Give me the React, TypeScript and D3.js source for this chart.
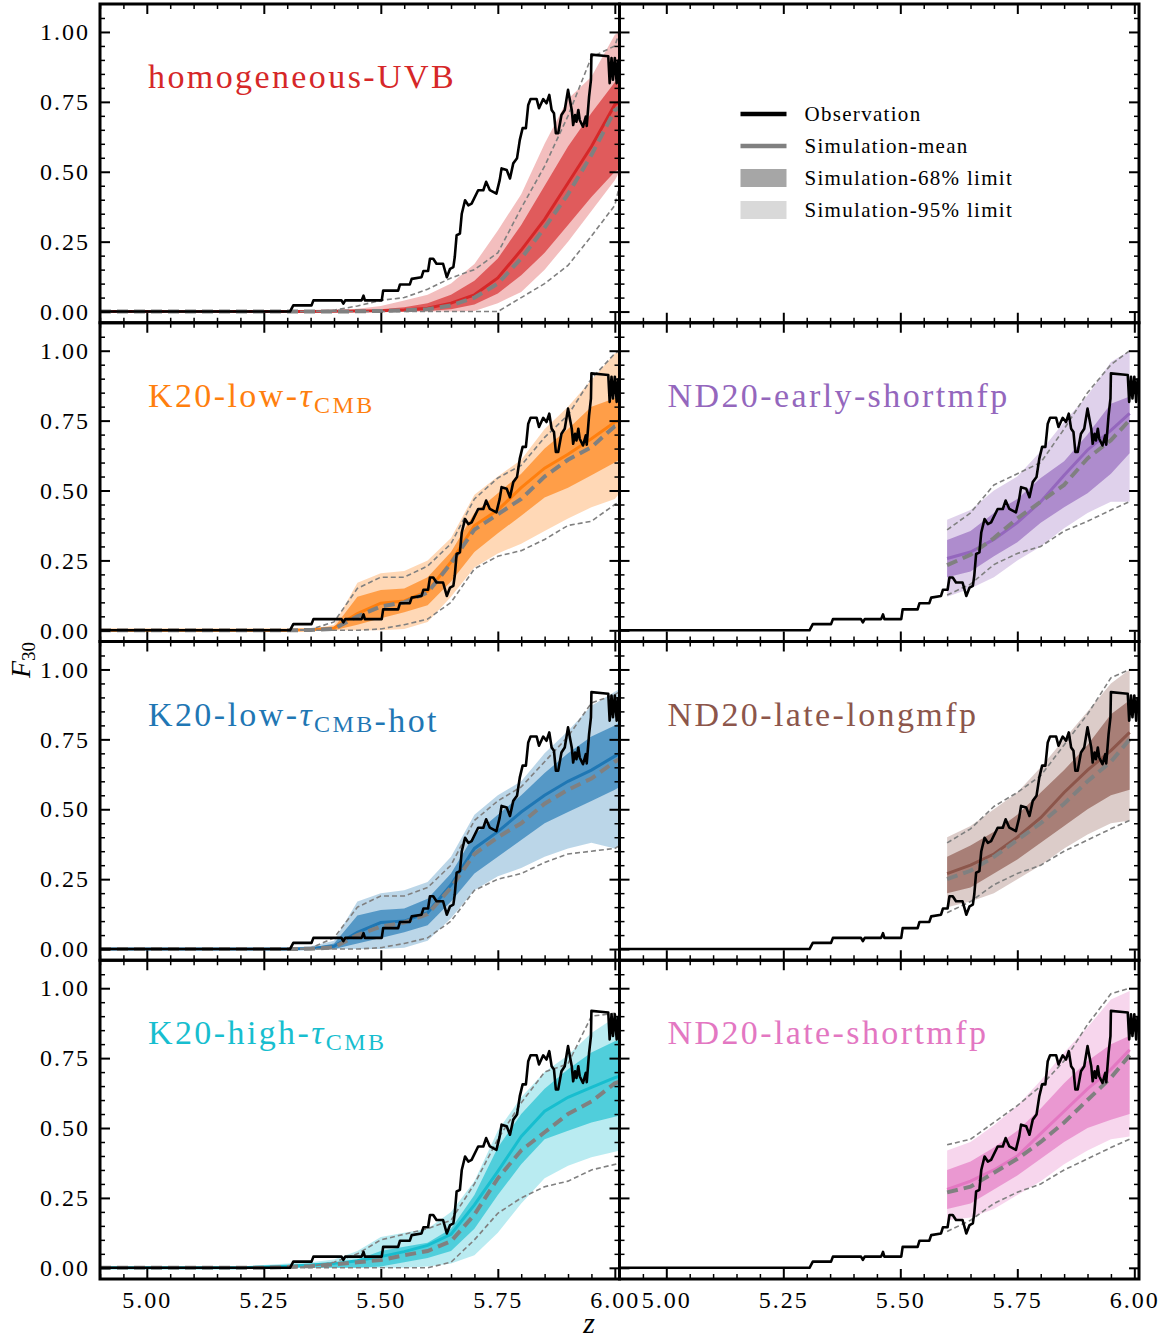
import { useEffect, useRef } from 'react'
import * as d3 from 'd3'

const W = 1167, H = 1338
const X0 = 100, PW = 519.5, Y0 = 4, PH = 318.75
const XDOM: [number, number] = [4.9, 6.01]
const YDOM: [number, number] = [-0.04, 1.1]
const X_MAJOR = [5.0, 5.25, 5.5, 5.75, 6.0]
const Y_MAJOR = [0, 0.25, 0.5, 0.75, 1.0]

// observed F30 (z, value)
const OBS_Z = [4.9, 5.306, 5.313, 5.352, 5.356, 5.416, 5.42, 5.424, 5.459, 5.463, 5.466, 5.502, 5.505, 5.537, 5.541, 5.562, 5.566, 5.587, 5.591, 5.601, 5.605, 5.612, 5.619, 5.633, 5.641, 5.648, 5.655, 5.658, 5.662, 5.669, 5.673, 5.68, 5.687, 5.694, 5.708, 5.719, 5.725, 5.733, 5.747, 5.754, 5.758, 5.769, 5.776, 5.783, 5.791, 5.797, 5.803, 5.81, 5.815, 5.82, 5.833, 5.838, 5.847, 5.854, 5.86, 5.865, 5.87, 5.874, 5.879, 5.886, 5.893, 5.9, 5.904, 5.908, 5.911, 5.915, 5.918, 5.922, 5.925, 5.932, 5.938, 5.94, 5.945, 5.949, 5.95, 5.975, 5.986, 5.989, 5.993, 5.996, 6.0, 6.004, 6.007]
const OBS_F = [0, 0, 0.022, 0.022, 0.04, 0.04, 0.028, 0.04, 0.04, 0.057, 0.04, 0.04, 0.075, 0.075, 0.097, 0.097, 0.117, 0.123, 0.145, 0.145, 0.189, 0.189, 0.171, 0.171, 0.123, 0.153, 0.159, 0.195, 0.273, 0.279, 0.35, 0.398, 0.38, 0.386, 0.434, 0.434, 0.464, 0.434, 0.422, 0.47, 0.512, 0.506, 0.476, 0.53, 0.548, 0.614, 0.656, 0.656, 0.739, 0.76, 0.76, 0.727, 0.76, 0.745, 0.775, 0.721, 0.709, 0.638, 0.638, 0.703, 0.721, 0.793, 0.757, 0.721, 0.667, 0.703, 0.679, 0.721, 0.685, 0.661, 0.697, 0.664, 0.769, 0.829, 0.919, 0.915, 0.913, 0.817, 0.907, 0.829, 0.907, 0.817, 0.901]

const Z_LEFT = [4.9, 5.2, 5.25, 5.3, 5.35, 5.4, 5.45, 5.5, 5.55, 5.6, 5.65, 5.7, 5.75, 5.8, 5.85, 5.9, 5.95, 6.0, 6.01]
const Z_RIGHT = [5.6, 5.65, 5.7, 5.75, 5.8, 5.85, 5.9, 5.95, 5.99]

const HOMO = {
  mean:   [0, 0, 0, 0, 0, 0.001, 0.002, 0.003, 0.006, 0.012, 0.03, 0.06, 0.12, 0.22, 0.33, 0.46, 0.59, 0.74, 0.75],
  median: [0, 0, 0, 0, 0, 0, 0.001, 0.002, 0.004, 0.008, 0.022, 0.05, 0.1, 0.19, 0.3, 0.42, 0.56, 0.72, 0.73],
  hi95:   [0, 0, 0.002, 0.003, 0.004, 0.005, 0.01, 0.02, 0.04, 0.06, 0.1, 0.17, 0.29, 0.42, 0.6, 0.76, 0.84, 0.99, 1.0],
  hi68:   [0, 0, 0, 0, 0.001, 0.002, 0.004, 0.008, 0.015, 0.03, 0.06, 0.11, 0.19, 0.31, 0.45, 0.59, 0.71, 0.82, 0.83],
  lo68:   [0, 0, 0, 0, 0, 0, 0, 0, 0, 0.002, 0.008, 0.025, 0.065, 0.13, 0.21, 0.31, 0.41, 0.5, 0.51],
  lo95:   [0, 0, 0, 0, 0, 0, 0, 0, 0, 0, 0, 0.002, 0.03, 0.07, 0.15, 0.25, 0.36, 0.47, 0.5],
  thinHi: [0, 0, 0, 0, 0, 0.005, 0.02, 0.04, 0.05, 0.08, 0.12, 0.15, 0.21, 0.37, 0.52, 0.7, 0.91, 0.95, 1.0],
  thinLo: [0, 0, 0, 0, 0, 0, 0, 0, 0, 0, 0, 0, 0, 0.05, 0.1, 0.165, 0.27, 0.38, 0.45],
}
const K20_LOW = {
  mean:   [0, 0, 0, 0, 0.002, 0.008, 0.06, 0.097, 0.105, 0.14, 0.245, 0.375, 0.43, 0.51, 0.58, 0.63, 0.685, 0.745, 0.75],
  median: [0, 0, 0, 0, 0.001, 0.005, 0.05, 0.085, 0.1, 0.135, 0.24, 0.36, 0.415, 0.47, 0.55, 0.61, 0.655, 0.73, 0.735],
  hi95:   [0, 0, 0, 0.002, 0.003, 0.02, 0.17, 0.204, 0.212, 0.25, 0.33, 0.485, 0.55, 0.61, 0.72, 0.8, 0.895, 0.99, 1.0],
  hi68:   [0, 0, 0, 0, 0.002, 0.01, 0.12, 0.144, 0.15, 0.19, 0.28, 0.42, 0.49, 0.56, 0.65, 0.72, 0.8, 0.83, 0.84],
  lo68:   [0, 0, 0, 0, 0, 0, 0.02, 0.043, 0.065, 0.09, 0.175, 0.28, 0.347, 0.41, 0.475, 0.51, 0.555, 0.6, 0.61],
  lo95:   [0, 0, 0, 0, 0, 0, 0, 0, 0.005, 0.03, 0.12, 0.225, 0.275, 0.31, 0.355, 0.4, 0.44, 0.47, 0.49],
  thinHi: [0, 0, 0, 0, 0.003, 0.03, 0.15, 0.19, 0.19, 0.23, 0.31, 0.47, 0.545, 0.59, 0.69, 0.77, 0.9, 0.99, 1.0],
  thinLo: [0, 0, 0, 0, 0, 0, 0, 0.005, 0.02, 0.04, 0.1, 0.22, 0.265, 0.285, 0.325, 0.375, 0.39, 0.45, 0.46],
}
const K20_HOT = {
  mean:   [0, 0, 0, 0, 0.002, 0.01, 0.06, 0.095, 0.1, 0.13, 0.23, 0.36, 0.42, 0.49, 0.55, 0.6, 0.64, 0.69, 0.7],
  median: [0, 0, 0, 0, 0.001, 0.006, 0.05, 0.08, 0.095, 0.125, 0.22, 0.34, 0.4, 0.45, 0.52, 0.57, 0.61, 0.67, 0.68],
  hi95:   [0, 0, 0.003, 0.005, 0.01, 0.03, 0.17, 0.2, 0.21, 0.24, 0.33, 0.48, 0.55, 0.6, 0.7, 0.78, 0.87, 0.92, 0.93],
  hi68:   [0, 0, 0, 0, 0.004, 0.02, 0.12, 0.14, 0.145, 0.18, 0.27, 0.41, 0.48, 0.55, 0.63, 0.7, 0.76, 0.8, 0.81],
  lo68:   [0, 0, 0, 0, 0, 0, 0.02, 0.04, 0.06, 0.085, 0.17, 0.27, 0.33, 0.39, 0.45, 0.49, 0.53, 0.57, 0.58],
  lo95:   [0, 0, 0, 0, 0, 0, 0, 0, 0.005, 0.03, 0.11, 0.21, 0.26, 0.29, 0.33, 0.36, 0.38, 0.36, 0.37],
  thinHi: [0, 0, 0, 0, 0.003, 0.04, 0.15, 0.19, 0.19, 0.22, 0.3, 0.46, 0.53, 0.58, 0.67, 0.76, 0.88, 0.91, 0.92],
  thinLo: [0, 0, 0, 0, 0, 0, 0, 0.005, 0.02, 0.04, 0.1, 0.21, 0.25, 0.27, 0.31, 0.34, 0.35, 0.36, 0.37],
}
const K20_HIGH = {
  mean:   [0, 0, 0.003, 0.006, 0.01, 0.015, 0.025, 0.04, 0.058, 0.08, 0.12, 0.225, 0.345, 0.47, 0.56, 0.61, 0.645, 0.68, 0.685],
  median: [0, 0, 0, 0.003, 0.006, 0.012, 0.02, 0.028, 0.045, 0.06, 0.095, 0.19, 0.32, 0.42, 0.485, 0.55, 0.595, 0.66, 0.665],
  hi95:   [0, 0.003, 0.01, 0.015, 0.02, 0.03, 0.06, 0.11, 0.125, 0.14, 0.2, 0.31, 0.49, 0.61, 0.7, 0.76, 0.84, 0.895, 0.9],
  hi68:   [0, 0, 0.002, 0.004, 0.006, 0.01, 0.03, 0.06, 0.075, 0.09, 0.14, 0.26, 0.43, 0.55, 0.64, 0.71, 0.77, 0.81, 0.815],
  lo68:   [0, 0, 0, 0, 0, 0, 0, 0.005, 0.02, 0.035, 0.06, 0.14, 0.26, 0.37, 0.46, 0.49, 0.52, 0.54, 0.545],
  lo95:   [0, 0, 0, 0, 0, 0, 0, 0, 0, 0.005, 0.015, 0.045, 0.125, 0.23, 0.32, 0.365, 0.395, 0.415, 0.42],
  thinHi: [0, 0, 0, 0, 0.005, 0.02, 0.05, 0.1, 0.12, 0.14, 0.17, 0.3, 0.46, 0.59, 0.7, 0.73, 0.9, 0.91, 0.91],
  thinLo: [0, 0, 0, 0, 0, 0, 0, 0, 0, 0, 0.02, 0.1, 0.195, 0.25, 0.29, 0.31, 0.35, 0.37, 0.375],
}
const ND20_EARLY_SHORT = {
  mean:   [0.257, 0.28, 0.325, 0.385, 0.46, 0.555, 0.645, 0.715, 0.776],
  median: [0.233, 0.27, 0.33, 0.4, 0.46, 0.52, 0.615, 0.68, 0.752],
  hi95:   [0.395, 0.43, 0.5, 0.55, 0.64, 0.745, 0.84, 0.96, 1.0],
  hi68:   [0.323, 0.355, 0.42, 0.47, 0.545, 0.605, 0.7, 0.81, 0.836],
  lo68:   [0.19, 0.21, 0.265, 0.315, 0.385, 0.44, 0.49, 0.56, 0.633],
  lo95:   [0.12, 0.15, 0.19, 0.25, 0.3, 0.365, 0.42, 0.46, 0.46],
  thinHi: [0.359, 0.42, 0.52, 0.56, 0.6, 0.72, 0.85, 0.95, 1.0],
  thinLo: [0.126, 0.165, 0.235, 0.275, 0.3, 0.355, 0.39, 0.43, 0.46],
}
const ND20_LATE_LONG = {
  mean:   [0.27, 0.3, 0.34, 0.4, 0.47, 0.56, 0.64, 0.71, 0.775],
  median: [0.25, 0.28, 0.33, 0.39, 0.45, 0.52, 0.6, 0.67, 0.75],
  hi95:   [0.4, 0.44, 0.5, 0.56, 0.65, 0.75, 0.85, 0.95, 1.0],
  hi68:   [0.33, 0.37, 0.42, 0.48, 0.56, 0.64, 0.73, 0.84, 0.89],
  lo68:   [0.2, 0.22, 0.27, 0.32, 0.38, 0.44, 0.5, 0.55, 0.57],
  lo95:   [0.15, 0.17, 0.2, 0.25, 0.3, 0.36, 0.41, 0.45, 0.46],
  thinHi: [0.38, 0.43, 0.51, 0.56, 0.62, 0.73, 0.84, 0.97, 1.0],
  thinLo: [0.13, 0.17, 0.23, 0.27, 0.3, 0.35, 0.39, 0.43, 0.46],
}
const ND20_LATE_SHORT = {
  mean:   [0.28, 0.31, 0.35, 0.4, 0.48, 0.56, 0.64, 0.71, 0.78],
  median: [0.27, 0.29, 0.34, 0.39, 0.45, 0.52, 0.6, 0.68, 0.76],
  hi95:   [0.42, 0.45, 0.51, 0.58, 0.67, 0.77, 0.86, 0.96, 0.99],
  hi68:   [0.35, 0.38, 0.43, 0.49, 0.57, 0.66, 0.74, 0.8, 0.83],
  lo68:   [0.21, 0.23, 0.28, 0.33, 0.39, 0.45, 0.5, 0.53, 0.55],
  lo95:   [0.17, 0.18, 0.21, 0.26, 0.31, 0.37, 0.42, 0.46, 0.47],
  thinHi: [0.44, 0.46, 0.52, 0.58, 0.65, 0.74, 0.87, 0.98, 1.0],
  thinLo: [0.13, 0.17, 0.23, 0.27, 0.3, 0.35, 0.39, 0.43, 0.46],
}

type Seg = { t: string; it?: boolean; sub?: boolean }
const PANELS = [
  { row: 0, col: 0, z: Z_LEFT, m: HOMO, color: '#d62728', label: [{ t: 'homogeneous-UVB' }] as Seg[] },
  { row: 1, col: 0, z: Z_LEFT, m: K20_LOW, color: '#ff7f0e', label: [{ t: 'K20-low-' }, { t: 'τ', it: true }, { t: 'CMB', sub: true }] as Seg[] },
  { row: 2, col: 0, z: Z_LEFT, m: K20_HOT, color: '#1f77b4', label: [{ t: 'K20-low-' }, { t: 'τ', it: true }, { t: 'CMB', sub: true }, { t: '-hot' }] as Seg[] },
  { row: 3, col: 0, z: Z_LEFT, m: K20_HIGH, color: '#17becf', label: [{ t: 'K20-high-' }, { t: 'τ', it: true }, { t: 'CMB', sub: true }] as Seg[] },
  { row: 0, col: 1, z: null, m: null, color: '', label: [] as Seg[] },
  { row: 1, col: 1, z: Z_RIGHT, m: ND20_EARLY_SHORT, color: '#9467bd', label: [{ t: 'ND20-early-shortmfp' }] as Seg[] },
  { row: 2, col: 1, z: Z_RIGHT, m: ND20_LATE_LONG, color: '#8c564b', label: [{ t: 'ND20-late-longmfp' }] as Seg[] },
  { row: 3, col: 1, z: Z_RIGHT, m: ND20_LATE_SHORT, color: '#e377c2', label: [{ t: 'ND20-late-shortmfp' }] as Seg[] },
]

const LEGEND = [
  { label: 'Observation', kind: 'line', color: '#000000' },
  { label: 'Simulation-mean', kind: 'line', color: '#808080' },
  { label: 'Simulation-68% limit', kind: 'patch', color: '#a6a6a6' },
  { label: 'Simulation-95% limit', kind: 'patch', color: '#d9d9d9' },
]

const FONT = "'Liberation Serif', 'DejaVu Serif', serif"

export default function App() {
  const svgRef = useRef<SVGSVGElement>(null)

  useEffect(() => {
    if (!svgRef.current) return
    const svg = d3.select(svgRef.current)
    svg.selectAll('*').remove()
    const defs = svg.append('defs')

    const xMinor = d3.range(4.9, 6.0001, 0.05).filter(v => !X_MAJOR.some(t => Math.abs(t - v) < 1e-6))
    const yMinor = d3.range(0.05, 1.0501, 0.05).filter(v => !Y_MAJOR.some(t => Math.abs(t - v) < 1e-6))

    PANELS.forEach((p, i) => {
      const px = X0 + p.col * PW
      const py = Y0 + p.row * PH
      const x = d3.scaleLinear().domain(XDOM).range([px, px + PW])
      const y = d3.scaleLinear().domain(YDOM).range([py + PH, py])

      defs.append('clipPath').attr('id', `clip-${i}`)
        .append('rect').attr('x', px).attr('y', py).attr('width', PW).attr('height', PH)
      const g = svg.append('g')
      const plot = g.append('g').attr('clip-path', `url(#clip-${i})`)

      if (p.m && p.z) {
        const zs = p.z
        const m = p.m
        const band = (lo: number[], hi: number[]) =>
          d3.area<number>().x(d => x(d)).y0((_, k) => y(lo[k])).y1((_, k) => y(hi[k]))(zs)
        const line = (v: number[]) => d3.line<number>().x(d => x(d)).y((_, k) => y(v[k]))(zs)

        plot.append('path').attr('d', band(m.lo95, m.hi95)).attr('fill', p.color).attr('fill-opacity', 0.3)
        plot.append('path').attr('d', band(m.lo68, m.hi68)).attr('fill', p.color).attr('fill-opacity', 0.65)
        plot.append('path').attr('d', line(m.mean)).attr('fill', 'none').attr('stroke', p.color).attr('stroke-width', 3)
        ;[m.thinLo, m.thinHi].forEach(v => {
          plot.append('path').attr('d', line(v)).attr('fill', 'none').attr('stroke', '#808080')
            .attr('stroke-width', 1.6).attr('stroke-dasharray', '5,3')
        })
        plot.append('path').attr('d', line(m.median)).attr('fill', 'none').attr('stroke', '#808080')
          .attr('stroke-width', 4).attr('stroke-dasharray', '11,6')

        const obsLine = d3.line<number>().x(d => x(d)).y((_, k) => y(OBS_F[k]))
        plot.append('path').attr('d', obsLine(OBS_Z)).attr('fill', 'none').attr('stroke', '#000')
          .attr('stroke-width', 2.6).attr('stroke-linejoin', 'round')

        const lab = g.append('text').attr('x', px + 48).attr('y', py + 84)
          .attr('font-family', FONT).attr('font-size', 34).attr('fill', p.color).attr('letter-spacing', 2.4)
        p.label.forEach(s => {
          const ts = lab.append('tspan').text(s.t)
          if (s.it) ts.attr('font-style', 'italic')
          if (s.sub) ts.attr('font-size', 24).attr('dy', 6)
        })
      }

      // ticks, all four sides, pointing inward
      const showX = p.row === 3
      const showY = p.col === 0
      const tickStyle = (sel: d3.Selection<SVGGElement, unknown, null, undefined>) => {
        sel.select('.domain').remove()
        sel.selectAll('.tick line').attr('stroke', '#000').attr('stroke-width', 2)
        sel.selectAll('.tick text').attr('font-family', FONT).attr('font-size', 24)
          .attr('fill', '#000').attr('letter-spacing', 2)
      }
      const minorStyle = (sel: d3.Selection<SVGGElement, unknown, null, undefined>) => {
        sel.select('.domain').remove()
        sel.selectAll('.tick line').attr('stroke', '#000').attr('stroke-width', 1.5)
        sel.selectAll('.tick text').remove()
      }

      g.append('g').attr('transform', `translate(0,${py + PH})`)
        .call(d3.axisBottom(x).tickValues(X_MAJOR).tickSize(-10).tickPadding(12)
          .tickFormat(v => (showX ? d3.format('.2f')(v as number) : '')))
        .call(tickStyle)
      g.append('g').attr('transform', `translate(0,${py + PH})`)
        .call(d3.axisBottom(x).tickValues(xMinor).tickSize(-5)).call(minorStyle)
      g.append('g').attr('transform', `translate(0,${py})`)
        .call(d3.axisTop(x).tickValues(X_MAJOR).tickSize(-10).tickFormat(() => '')).call(tickStyle)
      g.append('g').attr('transform', `translate(0,${py})`)
        .call(d3.axisTop(x).tickValues(xMinor).tickSize(-5)).call(minorStyle)
      g.append('g').attr('transform', `translate(${px},0)`)
        .call(d3.axisLeft(y).tickValues(Y_MAJOR).tickSize(-10).tickPadding(10)
          .tickFormat(v => (showY ? d3.format('.2f')(v as number) : '')))
        .call(tickStyle)
      g.append('g').attr('transform', `translate(${px},0)`)
        .call(d3.axisLeft(y).tickValues(yMinor).tickSize(-5)).call(minorStyle)
      g.append('g').attr('transform', `translate(${px + PW},0)`)
        .call(d3.axisRight(y).tickValues(Y_MAJOR).tickSize(-10).tickFormat(() => '')).call(tickStyle)
      g.append('g').attr('transform', `translate(${px + PW},0)`)
        .call(d3.axisRight(y).tickValues(yMinor).tickSize(-5)).call(minorStyle)

      g.append('rect').attr('x', px).attr('y', py).attr('width', PW).attr('height', PH)
        .attr('fill', 'none').attr('stroke', '#000').attr('stroke-width', 3)

      // legend lives in the empty top-right panel
      if (!p.m) {
        LEGEND.forEach((d, k) => {
          const cy = py + 110 + k * 32
          if (d.kind === 'line') {
            g.append('line').attr('x1', px + 121).attr('x2', px + 167).attr('y1', cy).attr('y2', cy)
              .attr('stroke', d.color).attr('stroke-width', 4.5)
          } else {
            g.append('rect').attr('x', px + 121).attr('y', cy - 9).attr('width', 46).attr('height', 18)
              .attr('fill', d.color)
          }
          g.append('text').attr('x', px + 185).attr('y', cy).attr('dy', '0.35em')
            .attr('font-family', FONT).attr('font-size', 21).attr('letter-spacing', 1.3).text(d.label)
        })
      }
    })

    // shared axis labels
    svg.append('text').attr('x', 589).attr('y', 1333).attr('text-anchor', 'middle')
      .attr('font-family', FONT).attr('font-size', 30).attr('font-style', 'italic').text('z')
    const yl = svg.append('text').attr('transform', 'translate(30,660) rotate(-90)').attr('text-anchor', 'middle')
      .attr('font-family', FONT).attr('font-size', 28)
    yl.append('tspan').attr('font-style', 'italic').text('F')
    yl.append('tspan').attr('font-size', 19).attr('dy', 5).text('30')
  }, [])

  return (
    <svg ref={svgRef} width={W} height={H}
      style={{ position: 'absolute', left: 0, top: 0, display: 'block', background: '#fff' }} />
  )
}
